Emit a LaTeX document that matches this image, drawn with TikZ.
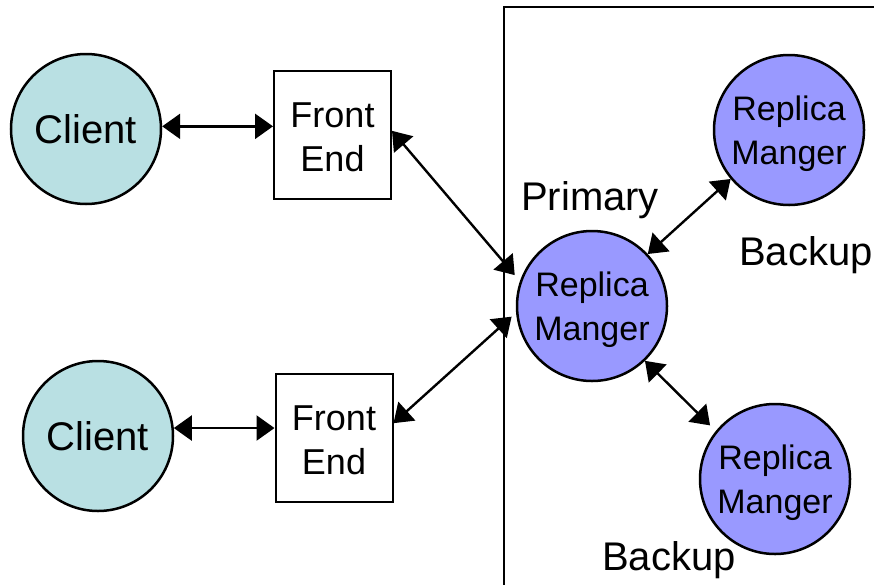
\documentclass[tikz,border=0pt]{standalone}
\usepackage{fontspec}
\setmainfont{Liberation Sans}
\usetikzlibrary{arrows.meta}
\definecolor{clientfill}{RGB}{185,224,227}
\definecolor{rmfill}{RGB}{153,153,255}
\newcommand{\toplift}{\rule{0pt}{33pt}}
\begin{document}
\begin{tikzpicture}[x=1pt,y=-1pt,
 client/.style={circle,draw,line width=2.5pt,fill=clientfill,minimum size=150pt,inner sep=0pt,font=\fontsize{40}{44}\selectfont},
 rm/.style={circle,draw,line width=2.5pt,fill=rmfill,minimum size=150pt,inner sep=0pt,align=center,font=\fontsize{34}{44}\selectfont},
 fe/.style={rectangle,draw,line width=2pt,minimum width=117pt,minimum height=128pt,inner sep=0pt,align=center,font=\fontsize{36}{44}\selectfont},
 lbl/.style={anchor=base,font=\fontsize{40}{44}\selectfont,inner sep=0pt},
 link/.style={line width=2.4pt,{Triangle[length=18pt,width=25pt]}-{Triangle[length=18pt,width=25pt]}}]
\useasboundingbox (0,0) rectangle (874,584);
\draw[line width=2pt] (504,600) -- (504,7) -- (890,7);
\node[client] (c1) at (86,129) {Client};
\node[client] (c2) at (98,436) {Client};
\node[fe] (fe1) at (332.5,135) {\rule{0pt}{30pt}Front\\End};
\node[fe] (fe2) at (334,438) {\rule{0pt}{30pt}Front\\End};
\node[rm] (pm) at (592,306) {\toplift Replica\\Manger};
\node[rm] (rb1) at (789,130) {\toplift Replica\\Manger};
\node[rm] (rb2) at (775,479) {\toplift Replica\\Manger};
\node[lbl] (lp) at (590,210) {Primary};
\node[lbl] (lb1) at (806,265) {Backup};
\node[lbl] (lb2) at (669,570) {Backup};
\draw[link] (c1.2) -- (fe1.west |- c1.2);
\draw[link] (c2.6) -- (fe2.west |- c2.6);
\draw[link,shorten >=8pt] (fe1.4) -- (pm.161);
\draw[link,shorten >=6pt] (fe2.14) -- (pm.185);
\draw[link] (pm.43) -- (rb1.220);
\draw[link,shorten >=8pt] (pm.314) -- (rb2.141);
\end{tikzpicture}
\end{document}
